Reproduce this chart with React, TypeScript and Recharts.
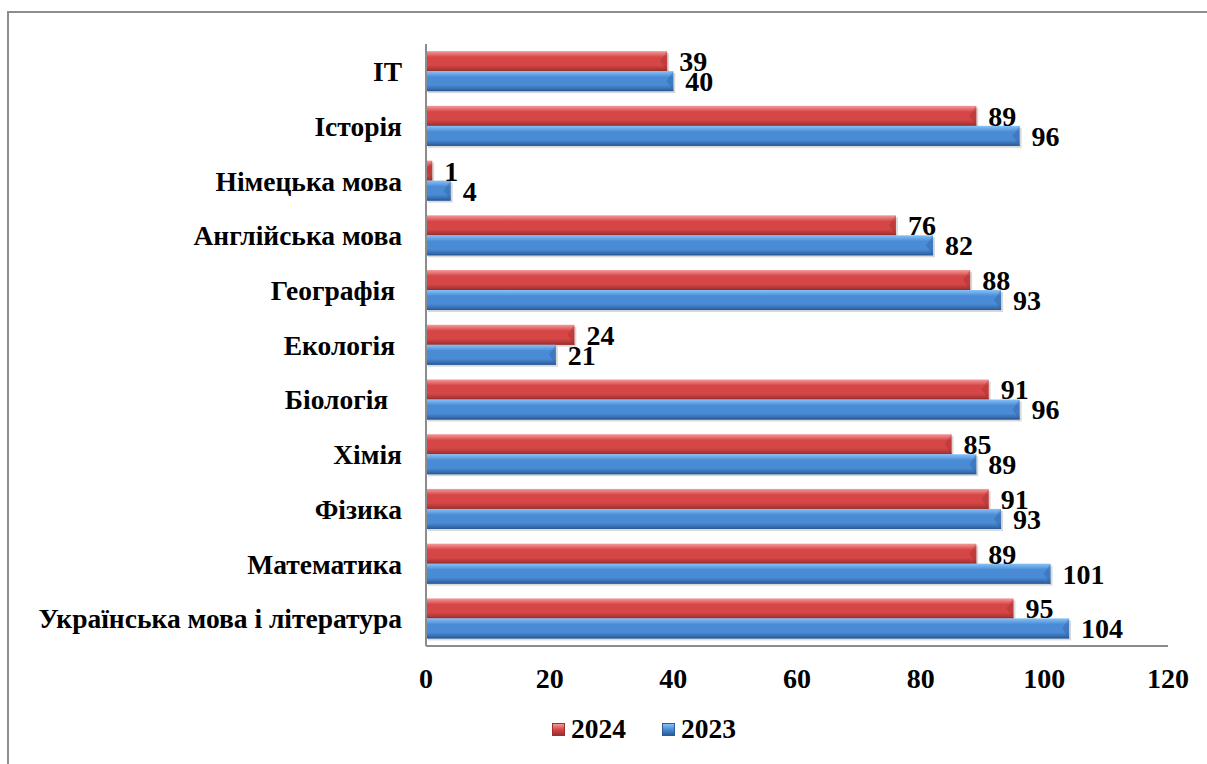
import React from 'react';
import { BarChart, Bar, XAxis, YAxis, LabelList } from 'recharts';

const subjects = [
  'IT',
  'Історія',
  'Німецька мова',
  'Англійська мова',
  'Географія\u00A0',
  'Екологія\u00A0',
  'Біологія\u00A0\u00A0',
  'Хімія',
  'Фізика',
  'Математика',
  'Українська мова і література',
];
const values2024 = [39, 89, 1, 76, 88, 24, 91, 85, 91, 89, 95];
const values2023 = [40, 96, 4, 82, 93, 21, 96, 89, 93, 101, 104];
const xTicks = [0, 20, 40, 60, 80, 100, 120];

const series = [
  { key: 'y2024', name: '2024', light: '#f59a9a', mid: '#d64646', dark: '#9c2f2f' },
  { key: 'y2023', name: '2023', light: '#86c2f7', mid: '#4a8bd6', dark: '#2b5c9a' },
];

const data = subjects.map((subject, i) => ({
  subject,
  y2024: values2024[i],
  y2023: values2023[i],
}));

const FONT = '"Liberation Serif", "Times New Roman", serif';

const makeShape = (id: string, dark: string) => (props: any) => {
  const { x, y, width, height } = props;
  if (!width || width <= 0) return null;
  const b = Math.min(7, width);
  return (
    <g>
      <rect x={x + 2} y={y + 2} width={width} height={height} fill="rgba(0,0,0,0.15)" />
      <rect x={x} y={y} width={width} height={height} fill={`url(#${id})`} />
      <polygon
        points={`${x + width - b},${y + height / 2} ${x + width},${y} ${x + width},${y + height}`}
        fill={dark}
        opacity={0.35}
      />
      <line x1={x} y1={y + height - 0.5} x2={x + width} y2={y + height - 0.5} stroke={dark} strokeWidth={1} />
    </g>
  );
};

export default function App() {
  return (
    <div
      style={{
        position: 'fixed',
        left: 0,
        top: 0,
        width: 1207,
        height: 764,
        overflow: 'hidden',
        background: '#fff',
        fontFamily: FONT,
      }}
    >
      <div
        style={{
          position: 'absolute',
          left: 7,
          top: 11,
          width: 1240,
          height: 800,
          border: '2px solid #8e8e8e',
          boxSizing: 'border-box',
        }}
      />
      <div style={{ position: 'absolute', left: 0, top: 0 }}>
        <BarChart
          width={1207}
          height={764}
          data={data}
          layout="vertical"
          margin={{ top: 44, right: 39, bottom: 58, left: 0 }}
          barCategoryGap="13%"
          barGap={0}
        >
          <defs>
            {series.map((s) => (
              <linearGradient key={s.key} id={`g-${s.key}`} x1="0" y1="0" x2="0" y2="1">
                <stop offset="0%" stopColor={s.light} />
                <stop offset="30%" stopColor={s.mid} />
                <stop offset="70%" stopColor={s.mid} />
                <stop offset="100%" stopColor={s.dark} />
              </linearGradient>
            ))}
          </defs>
          <XAxis
            type="number"
            domain={[0, 120]}
            ticks={xTicks}
            height={60}
            tickLine={false}
            axisLine={{ stroke: '#8c8c8c', strokeWidth: 2 }}
            tickMargin={16}
            tick={{ fill: '#000', fontSize: 28, fontWeight: 'bold', fontFamily: FONT }}
          />
          <YAxis
            type="category"
            dataKey="subject"
            width={426}
            interval={0}
            tickLine={false}
            axisLine={{ stroke: '#8c8c8c', strokeWidth: 2 }}
            tickMargin={18}
            tick={{ fill: '#000', fontSize: 27.5, fontWeight: 'bold', fontFamily: FONT }}
          />
          {series.map((s) => (
            <Bar
              key={s.key}
              dataKey={s.key}
              name={s.name}
              fill={s.mid}
              isAnimationActive={false}
              shape={makeShape(`g-${s.key}`, s.dark)}
            >
              <LabelList
                dataKey={s.key}
                position="right"
                offset={12}
                style={{ fill: '#000', fontSize: 28, fontWeight: 'bold', fontFamily: FONT }}
              />
            </Bar>
          ))}
        </BarChart>
      </div>
      <div
        style={{
          position: 'absolute',
          left: 552,
          top: 713,
          display: 'flex',
          alignItems: 'center',
          gap: 36,
        }}
      >
        {series.map((s) => (
          <div key={s.key} style={{ display: 'flex', alignItems: 'center', gap: 6 }}>
            <div
              style={{
                width: 13,
                height: 13,
                background: `linear-gradient(to bottom, ${s.light}, ${s.mid} 50%, ${s.dark})`,
                border: `1px solid ${s.dark}`,
                boxSizing: 'border-box',
              }}
            />
            <span style={{ fontSize: 27.5, fontWeight: 'bold', color: '#000' }}>{s.name}</span>
          </div>
        ))}
      </div>
    </div>
  );
}
